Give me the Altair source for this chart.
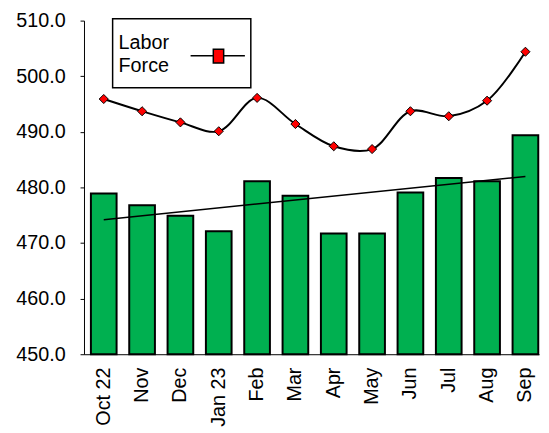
import altair as alt
import pandas as pd

months = ["Oct 22", "Nov", "Dec", "Jan 23", "Feb", "Mar", "Apr", "May", "Jun", "Jul", "Aug", "Sep"]
bar_values = [478.9, 476.8, 474.9, 472.1, 481.1, 478.5, 471.7, 471.7, 479.1, 481.7, 481.1, 489.4]
labor_force = [495.9, 493.7, 491.7, 490.1, 496.1, 491.4, 487.4, 486.9, 493.7, 492.8, 495.6, 504.4]
y_ticks = [450, 460, 470, 480, 490, 500, 510]
legend_label = "Labor Force"

df = pd.DataFrame({"idx": list(range(len(months))), "month": months,
                   "bar": bar_values, "labor": labor_force})

FONT = "Liberation Sans"
x_scale = alt.Scale(domain=months, paddingInner=0.33, paddingOuter=0.1, align=0.9)
y_scale = alt.Scale(domain=[450, 510], zero=False, nice=False, clamp=True)

x_axis = alt.Axis(labelAngle=-90, labelFontSize=20, labelFont=FONT, labelColor="black",
                  ticks=False, domainColor="black", domainWidth=1, labelPadding=13,
                  labelAlign="right", labelBaseline="middle", zindex=1)
y_axis = alt.Axis(values=y_ticks, format=".1f", labelFontSize=20, labelFont=FONT,
                  labelColor="black", grid=False, tickSize=4, tickColor="black",
                  labelPadding=15, domainColor="black", domainWidth=1, zindex=1)

base = alt.Chart(df)

bars = base.mark_bar(color="#00B050", stroke="black", strokeWidth=2).encode(
    x=alt.X("month:N", scale=x_scale, sort=months, title=None, axis=x_axis),
    y=alt.Y("bar:Q", scale=y_scale, title=None, axis=y_axis),
)

trend = base.transform_regression("idx", "bar").transform_lookup(
    lookup="idx", from_=alt.LookupData(data=df, key="idx", fields=["month"])
).mark_line(color="black", strokeWidth=1.5).encode(
    x=alt.X("month:N", scale=x_scale, sort=months, title=None),
    y=alt.Y("bar:Q", scale=y_scale, title=None),
)

line = base.mark_line(interpolate="catmull-rom", color="black", strokeWidth=2).encode(
    x=alt.X("month:N", scale=x_scale, sort=months, title=None),
    y=alt.Y("labor:Q", scale=y_scale, title=None),
)

points = base.mark_point(shape="diamond", filled=True, fill="#FF0000", stroke="black",
                         strokeWidth=1, size=85, opacity=1).encode(
    x=alt.X("month:N", scale=x_scale, sort=months, title=None),
    y=alt.Y("labor:Q", scale=y_scale, title=None),
)

leg = alt.Chart(alt.Data(values=[{"label": legend_label}]))
leg_box = leg.mark_rect(fill="white", stroke="black", strokeWidth=1.5).encode(
    x=alt.value(29), x2=alt.value(169), y=alt.value(-2), y2=alt.value(68))
leg_text = leg.mark_text(align="left", baseline="alphabetic", fontSize=20, font=FONT,
                         lineBreak=" ", lineHeight=24, color="black").encode(
    x=alt.value(35), y=alt.value(28.5), text="label:N")
leg_rule = leg.mark_rule(color="black", strokeWidth=1.5).encode(
    x=alt.value(108), x2=alt.value(163), y=alt.value(35.5))
leg_sq = leg.mark_rect(fill="#FF0000", stroke="black", strokeWidth=1.5).encode(
    x=alt.value(131), x2=alt.value(141.5), y=alt.value(29), y2=alt.value(43))

chart = alt.layer(bars, trend, line, points, leg_box, leg_text, leg_rule, leg_sq).properties(
    width=461, height=338,
    autosize=alt.AutoSizeParams(type="none"),
    padding={"left": 77, "top": 10, "right": 2, "bottom": 75},
    background="white",
).configure_view(stroke=None)

chart.save("out.html", embed_options={"renderer": "svg", "actions": False})
